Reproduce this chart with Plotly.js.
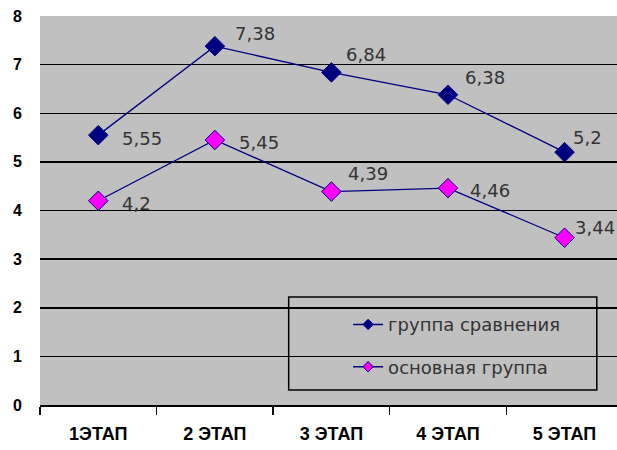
<!DOCTYPE html>
<html>
<head>
<meta charset="utf-8">
<script src="https://cdn.plot.ly/plotly-3.0.1.min.js"></script>
<style>html,body{margin:0;padding:0;background:#fff;}</style>
</head>
<body>
<div id="chart" style="width:617px;height:450px;"></div>
<script>
// Stages and the two groups' scores
const stages = ['1ЭТАП', '2 ЭТАП', '3 ЭТАП', '4 ЭТАП', '5 ЭТАП'];
const comparisonGroup = [5.55, 7.38, 6.84, 6.38, 5.2];
const mainGroup = [4.2, 5.45, 4.39, 4.46, 3.44];
const seriesNames = ['группа сравнения', 'основная группа'];
const yTickValues = [0, 1, 2, 3, 4, 5, 6, 7, 8];
const gridLevels = [1, 2, 3, 4, 5, 6, 7];

// pixel offsets of each value label from its marker
const labelOffsetsA = [[22, -3], [18, 13], [13, 18], [15, 17], [6, 15]];
const labelOffsetsB = [[22, -3], [22, -3], [15, 18], [20, -2], [8, 10]];

const NAVY = '#000080';
const MAGENTA = '#FF00FF';
const fmt = v => String(v).replace('.', ',');

function seriesTrace(values, fill, name) {
  return {
    type: 'scatter', mode: 'lines+markers', name: name,
    x: stages, y: values, showlegend: false, cliponaxis: false,
    line: {color: NAVY, width: 1.3},
    marker: {symbol: 'diamond', size: 15, color: fill, line: {color: NAVY, width: 1}}
  };
}
// legend-only entries with smaller markers; they carry the labelled y axis
function legendTrace(fill, name, group) {
  return {
    type: 'scatter', mode: 'lines+markers', name: name, legendgroup: group,
    x: stages, y: stages.map(() => null), yaxis: 'y2',
    line: {color: NAVY, width: 1.5},
    marker: {symbol: 'diamond', size: 8, color: fill, line: {color: NAVY, width: 1}}
  };
}

const traces = [
  seriesTrace(comparisonGroup, NAVY, seriesNames[0]),
  seriesTrace(mainGroup, MAGENTA, seriesNames[1]),
  legendTrace(NAVY, seriesNames[0], 'a'),
  legendTrace(MAGENTA, seriesNames[1], 'b')
];

function labels(values, offsets) {
  return values.map((v, i) => ({
    x: stages[i], y: v, xref: 'x', yref: 'y', text: fmt(v), showarrow: false,
    xanchor: 'left', yanchor: 'middle', xshift: offsets[i][0], yshift: offsets[i][1],
    font: {family: 'DejaVu Sans', size: 18, color: '#333333'}
  }));
}

const layout = {
  width: 617, height: 450,
  margin: {l: 40, r: 0, t: 16, b: 45},
  paper_bgcolor: '#ffffff',
  plot_bgcolor: '#C0C0C0',
  xaxis: {
    type: 'category', categoryorder: 'array', categoryarray: stages,
    range: [-0.5, 4.45], tickson: 'boundaries',
    ticks: 'outside', ticklen: 8, tickwidth: 1.5, tickcolor: '#000',
    showline: true, linecolor: '#000', linewidth: 1.5, showgrid: false, zeroline: false,
    ticklabelstandoff: 12,
    tickfont: {family: 'Liberation Sans', size: 18, weight: 'bold', color: '#000'}
  },
  yaxis: {
    range: [0, 8], tickmode: 'array', tickvals: gridLevels, showticklabels: false,
    showgrid: true, gridcolor: '#000', gridwidth: 1.5, zeroline: false, ticks: ''
  },
  yaxis2: {
    overlaying: 'y', side: 'left', anchor: 'x', range: [0, 8],
    tickmode: 'array', tickvals: yTickValues, showgrid: false, zeroline: false, ticks: '',
    ticklabelstandoff: 17,
    tickfont: {family: 'Liberation Sans', size: 16, weight: 'bold', color: '#000'}
  },
  showlegend: true,
  legend: {
    x: 0.534, y: 0.254, xanchor: 'left', yanchor: 'top',
    bgcolor: 'rgba(0,0,0,0)', borderwidth: 0, tracegroupgap: 16,
    font: {family: 'DejaVu Sans', size: 18, color: '#333333'}
  },
  shapes: [{
    type: 'rect', xref: 'paper', yref: 'paper', x0: 0.431, x1: 0.965, y0: 0.0386, y1: 0.2776,
    line: {color: '#000', width: 1.5}, fillcolor: '#C0C0C0', layer: 'between'
  }],
  annotations: labels(comparisonGroup, labelOffsetsA).concat(labels(mainGroup, labelOffsetsB))
};

Plotly.newPlot('chart', traces, layout, {staticPlot: true, displayModeBar: false});
</script>
</body>
</html>
